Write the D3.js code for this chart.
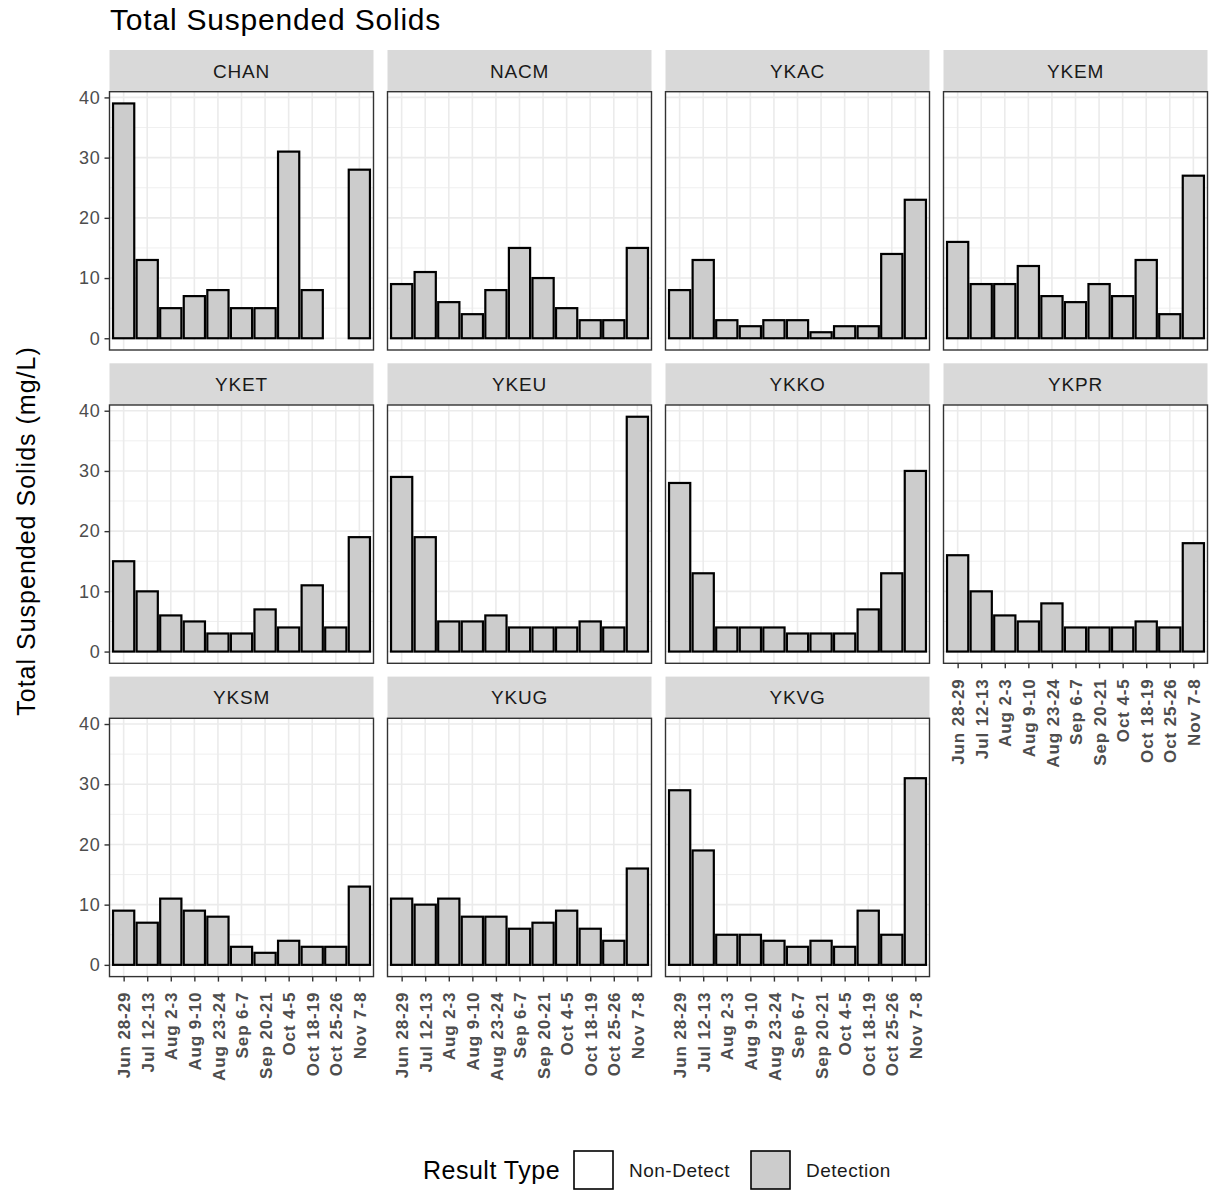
<!DOCTYPE html>
<html>
<head>
<meta charset="utf-8">
<script src="https://cdn.jsdelivr.net/npm/d3@7"></script>
<style>
	body { margin: 0; background: #fff; }
	svg { display: block; font-family: "Liberation Sans", Arial, sans-serif; }
</style>
</head>
<body>
<div id="chart"></div>
<script>
var dates = ["Jun 28-29", "Jul 12-13", "Aug 2-3", "Aug 9-10", "Aug 23-24", "Sep 6-7", "Sep 20-21", "Oct 4-5", "Oct 18-19", "Oct 25-26", "Nov 7-8"];
var sites = ["CHAN", "NACM", "YKAC", "YKEM", "YKET", "YKEU", "YKKO", "YKPR", "YKSM", "YKUG", "YKVG"];

// mg/L per sampling date, null = no sample
var chan = [39, 13, 5, 7, 8, 5, 5, 31, 8, null, 28];
var nacm = [9, 11, 6, 4, 8, 15, 10, 5, 3, 3, 15];
var ykac = [8, 13, 3, 2, 3, 3, 1, 2, 2, 14, 23];
var ykem = [16, 9, 9, 12, 7, 6, 9, 7, 13, 4, 27];
var yket = [15, 10, 6, 5, 3, 3, 7, 4, 11, 4, 19];
var ykeu = [29, 19, 5, 5, 6, 4, 4, 4, 5, 4, 39];
var ykko = [28, 13, 4, 4, 4, 3, 3, 3, 7, 13, 30];
var ykpr = [16, 10, 6, 5, 8, 4, 4, 4, 5, 4, 18];
var yksm = [9, 7, 11, 9, 8, 3, 2, 4, 3, 3, 13];
var ykug = [11, 10, 11, 8, 8, 6, 7, 9, 6, 4, 16];
var ykvg = [29, 19, 5, 5, 4, 3, 4, 3, 9, 5, 31];
var allValues = [chan, nacm, ykac, ykem, yket, ykeu, ykko, ykpr, yksm, ykug, ykvg];

var resultTypes = ["Non-Detect", "Detection"];
var typeColors = ["#FFFFFF", "#CCCCCC"];
var yTicks = [0, 10, 20, 30, 40];
var yMinor = [5, 15, 25, 35];

var width = 1212, height = 1191;
var ncol = 4;
var left0 = 109.5, colStep = 278, panelW = 264;
var top0 = 50, rowStep = 313.3, stripH = 41.7, panelH = 258.3;

var svg = d3.select("#chart").append("svg")
	.attr("width", width)
	.attr("height", height);

var maxVal = d3.max(allValues, v => d3.max(v));
var pad = maxVal * 0.05;
var y = d3.scaleLinear().domain([-pad, maxVal + pad]).range([panelH, 0]);
var x = d3.scalePoint().domain(dates).range([0, panelW]).padding(0.6);
var barW = x.step() * 0.9;
var fill = d3.scaleOrdinal().domain(resultTypes).range(typeColors);

svg.append("text")
	.attr("x", 110)
	.attr("y", 30)
	.style("font-size", "30px")
	.style("letter-spacing", "0.8px")
	.attr("fill", "#000")
	.text("Total Suspended Solids");

sites.forEach(function(site, i) {
	var col = i % ncol, row = Math.floor(i / ncol);
	var px = left0 + col * colStep;
	var stripTop = top0 + row * rowStep;
	var py = stripTop + stripH;
	var data = dates.map((d, j) => ({date: d, value: allValues[i][j], type: "Detection"}))
		.filter(d => d.value !== null);

	svg.append("rect")
		.attr("x", px).attr("y", stripTop)
		.attr("width", panelW).attr("height", stripH)
		.attr("fill", "#D9D9D9");
	svg.append("text")
		.attr("x", px + panelW / 2)
		.attr("y", stripTop + stripH / 2)
		.attr("dy", "0.36em")
		.attr("text-anchor", "middle")
		.style("font-size", "19px")
		.style("letter-spacing", "0.8px")
		.attr("fill", "#1A1A1A")
		.text(site);

	var g = svg.append("g").attr("transform", `translate(${px},${py})`);

	g.selectAll(".minor").data(yMinor).enter().append("line")
		.attr("x1", 0).attr("x2", panelW)
		.attr("y1", d => y(d)).attr("y2", d => y(d))
		.attr("stroke", "#EBEBEB").attr("stroke-width", 0.8);
	g.selectAll(".major").data(yTicks).enter().append("line")
		.attr("x1", 0).attr("x2", panelW)
		.attr("y1", d => y(d)).attr("y2", d => y(d))
		.attr("stroke", "#EBEBEB").attr("stroke-width", 1.6);
	g.selectAll(".vmajor").data(dates).enter().append("line")
		.attr("x1", d => x(d)).attr("x2", d => x(d))
		.attr("y1", 0).attr("y2", panelH)
		.attr("stroke", "#EBEBEB").attr("stroke-width", 1.6);

	g.selectAll(".bar").data(data).enter().append("rect")
		.attr("x", d => x(d.date) - barW / 2)
		.attr("y", d => y(d.value))
		.attr("width", barW)
		.attr("height", d => y(0) - y(d.value))
		.attr("fill", d => fill(d.type))
		.attr("stroke", "#000")
		.attr("stroke-width", 2.2);

	g.append("rect")
		.attr("width", panelW).attr("height", panelH)
		.attr("fill", "none")
		.attr("stroke", "#333333")
		.attr("stroke-width", 1.4);

	if (col === 0) {
		var ya = g.append("g").call(d3.axisLeft(y).tickValues(yTicks).tickSize(5).tickPadding(4));
		ya.select(".domain").remove();
		ya.selectAll("line").attr("stroke", "#333333").attr("stroke-width", 1.4);
		ya.selectAll("text")
			.attr("fill", "#4D4D4D")
			.style("font-size", "18px")
			.style("letter-spacing", "0.8px")
			.style("font-family", "Liberation Sans, Arial, sans-serif");
	}

	// bottom axis where no panel sits below
	if (i + ncol >= sites.length) {
		var xa = g.append("g")
			.attr("transform", `translate(0,${panelH})`)
			.call(d3.axisBottom(x).tickSize(5).tickPadding(7));
		xa.select(".domain").remove();
		xa.selectAll("line").attr("stroke", "#333333").attr("stroke-width", 1.4);
		xa.selectAll("text")
			.attr("transform", "rotate(-90)")
			.attr("x", -15)
			.attr("y", 0)
			.attr("dy", "0.36em")
			.attr("text-anchor", "end")
			.attr("fill", "#4D4D4D")
			.style("font-size", "17px")
			.style("font-weight", "bold")
			.style("letter-spacing", "0.9px")
			.style("font-family", "Liberation Sans, Arial, sans-serif");
	}
});

svg.append("text")
	.attr("transform", "translate(35,531) rotate(-90)")
	.attr("text-anchor", "middle")
	.style("font-size", "25px")
	.style("letter-spacing", "1px")
	.attr("fill", "#000")
	.text("Total Suspended Solids (mg/L)");

// legend
var legend = svg.append("g");
legend.append("text")
	.attr("x", 423).attr("y", 1170)
	.attr("dy", "0.36em")
	.style("font-size", "25px")
	.style("letter-spacing", "0.5px")
	.attr("fill", "#000")
	.text("Result Type");
var keyX = [574, 751];
resultTypes.forEach(function(t, k) {
	legend.append("rect")
		.attr("x", keyX[k]).attr("y", 1151)
		.attr("width", 39).attr("height", 38)
		.attr("fill", fill(t))
		.attr("stroke", "#000")
		.attr("stroke-width", 1.6);
	legend.append("text")
		.attr("x", keyX[k] + 55).attr("y", 1170)
		.attr("dy", "0.36em")
		.style("font-size", "19px")
		.style("letter-spacing", "0.5px")
		.attr("fill", "#1A1A1A")
		.text(t);
});
</script>
</body>
</html>
